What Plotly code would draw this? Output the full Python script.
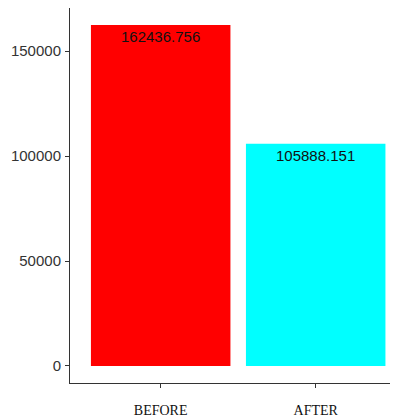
import plotly.graph_objects as go

categories = ["BEFORE", "AFTER"]
values = [162436.756, 105888.151]
colors = ["#FF0000", "#00FFFF"]
ytick_vals = [0, 50000, 100000, 150000]

fig = go.Figure(go.Bar(
    x=categories,
    y=values,
    marker=dict(color=colors, line=dict(width=0)),
    hoverinfo="skip",
))

for cat, v in zip(categories, values):
    fig.add_annotation(
        x=cat, y=v, text=str(v), showarrow=False,
        yanchor="top", xanchor="center", yshift=-1,
        font=dict(family="Liberation Sans, Arial", size=15, color="#111111"),
    )

fig.update_layout(
    width=390, height=410,
    margin=dict(l=62, r=0, t=0, b=35),
    paper_bgcolor="white", plot_bgcolor="white",
    bargap=0.1,
    showlegend=False,
    xaxis=dict(
        type="category",
        range=[-0.585, 1.531],
        showline=True, linecolor="#333333", linewidth=1,
        ticks="outside", ticklen=4, tickcolor="#333333",
        showgrid=False, zeroline=False,
        tickfont=dict(family="Liberation Serif, Times New Roman", size=14, color="#111111"),
        ticklabelstandoff=10,
    ),
    yaxis=dict(
        range=[-8122, 170558],
        tickvals=ytick_vals,
        ticktext=[str(v) for v in ytick_vals],
        showline=True, linecolor="#333333", linewidth=1,
        ticks="outside", ticklen=4, tickcolor="#333333",
        showgrid=False, zeroline=False,
        tickfont=dict(family="Liberation Sans, Arial", size=15, color="#333333"),
        ticklabelstandoff=1,
    ),
)

fig.write_html("out.html")
